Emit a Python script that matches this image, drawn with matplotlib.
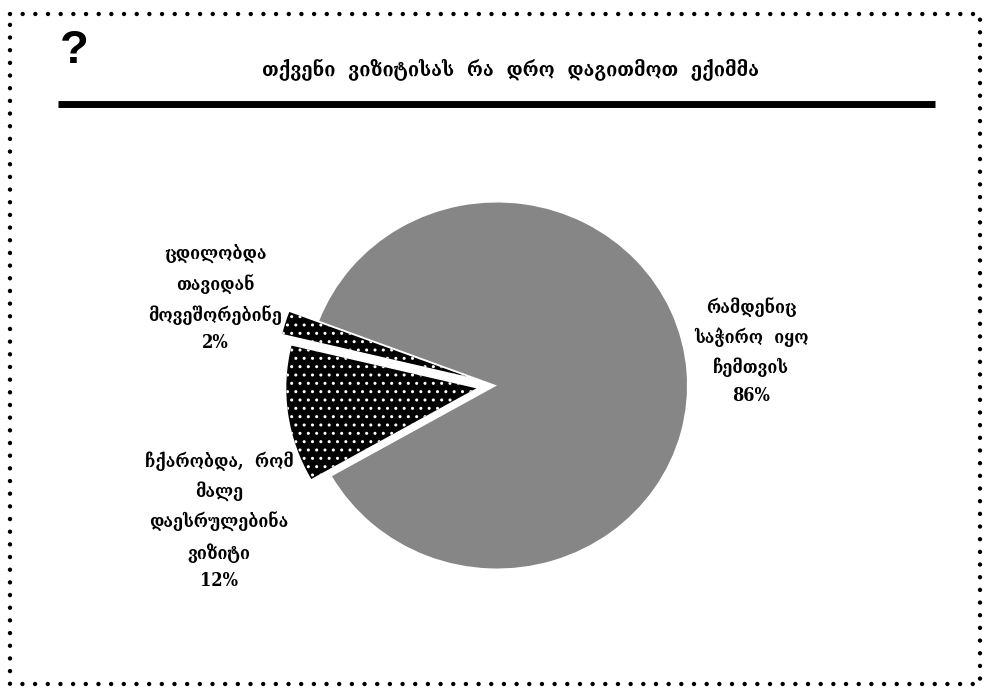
import matplotlib
matplotlib.use("Agg")
import matplotlib.pyplot as plt
from matplotlib.lines import Line2D

# data
labels = [
    "ცდილობდა\nთავიდან\nმოვეშორებინე\n2%",
    "ჩქარობდა,  რომ\nმალე\nდაესრულებინა\nვიზიტი\n12%",
    "რამდენიც\nსაჭირო  იყო\nჩემთვის\n86%",
]
values = [2, 12, 86]
explode = [0.165, 0.11, 0.0]
title = "თქვენი  ვიზიტისას  რა  დრო  დაგითმოთ  ექიმმა"

W, H = 996, 690
fig = plt.figure(figsize=(W / 100, H / 100), dpi=100)
geo = ["DejaVu Serif", "DejaVu Sans"]


def fx(px):
    return px / W


def fy(py):
    return 1 - py / H


# pie axes: slightly wider than tall like the original
cx, cy, rx, ry = 497, 385.5, 190, 183
lim = 1.3
ax = fig.add_axes([fx(cx - rx * lim), fy(cy + ry * lim), 2 * rx * lim / W, 2 * ry * lim / H])
wedges, _ = ax.pie(values, explode=explode, startangle=159.3, counterclock=True,
                   radius=1.0, normalize=True)
ax.set_aspect("auto")
ax.set_xlim(-lim, lim)
ax.set_ylim(-lim, lim)
ax.axis("off")

for w in wedges[:2]:
    w.set_facecolor("black")
    w.set_edgecolor("white")
    w.set_hatch("..")
    w.set_linewidth(0)
wedges[2].set_facecolor("#868686")
wedges[2].set_linewidth(0)

# labels
label_pos = [(215, 298), (219, 521), (751, 351)]
for lab, (x, y) in zip(labels, label_pos):
    fig.text(fx(x), fy(y), lab, ha="center", va="center", fontsize=13,
             fontweight="bold", family=geo, fontstretch="condensed",
             linespacing=1.68)

# header
fig.text(fx(74), fy(51), "?", ha="center", va="center", fontsize=34,
         fontweight="bold", family="Liberation Sans")
fig.text(fx(510), fy(70), title, ha="center", va="center", fontsize=14.6,
         fontweight="bold", family=geo, fontstretch="condensed")
fig.add_artist(Line2D([fx(58), fx(935)], [fy(103.5), fy(103.5)], color="black",
                      lw=5, solid_capstyle="butt"))

# dotted frame
x0, x1, y0, y1 = 10, 980, 14, 684
fig.add_artist(Line2D([fx(x0), fx(x1), fx(x1), fx(x0), fx(x0)],
                      [fy(y0), fy(y0), fy(y1), fy(y1), fy(y0)],
                      color="black", lw=3.2, linestyle=(0, (0.001, 2.85)),
                      dash_capstyle="round"))

fig.savefig("out.png", dpi=100)
